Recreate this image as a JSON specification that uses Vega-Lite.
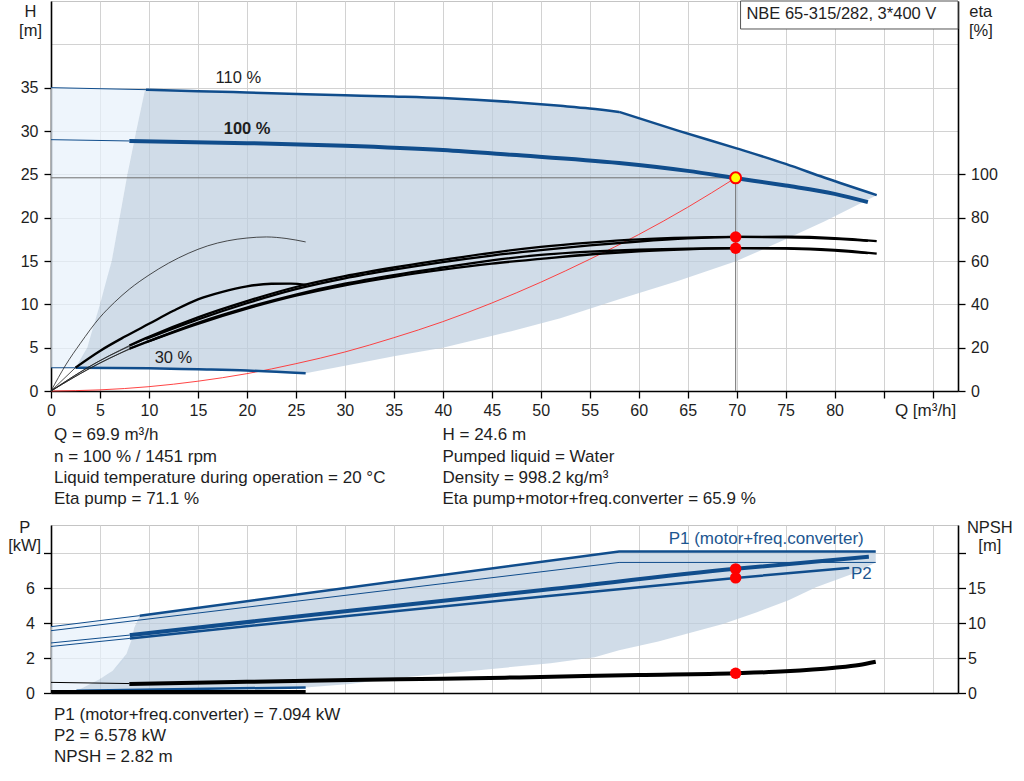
{
  "$schema": "https://vega.github.io/schema/vega-lite/v6.json",
  "padding": {"left": 7, "top": 0, "right": 0, "bottom": 0},
  "config": {
    "font": "Liberation Sans",
    "view": {"stroke": "#c4c4c4", "strokeWidth": 1},
    "axis": {
      "labelFont": "Liberation Sans", "labelFontSize": 16, "labelColor": "#1e1e1e",
      "titleFont": "Liberation Sans", "titleFontSize": 16.5, "titleFontWeight": "normal", "titleColor": "#1e1e1e",
      "domainColor": "#000000", "domainWidth": 1.6,
      "tickColor": "#000000", "tickWidth": 1.3, "tickSize": 7,
      "gridColor": "#d2d2d2", "gridWidth": 1, "gridOpacity": 1,
      "labelOverlap": false, "labelFlush": false
    },
    "text": {"font": "Liberation Sans", "fontSize": 17, "color": "#1e1e1e"}
  },
  "datasets": {
    "hArea": [
      {"region": "light", "Q": 0, "H": 35.0, "H2": 2.68},
      {"region": "light", "Q": 2.5, "H": 34.97, "H2": 2.68},
      {"region": "light", "Q": 3.7, "H": 34.95, "H2": 5},
      {"region": "light", "Q": 5.0, "H": 34.92, "H2": 10},
      {"region": "light", "Q": 6.2, "H": 34.9, "H2": 15},
      {"region": "light", "Q": 7.0, "H": 34.88, "H2": 20},
      {"region": "light", "Q": 7.8, "H": 34.86, "H2": 25},
      {"region": "light", "Q": 8.7, "H": 34.83, "H2": 30},
      {"region": "light", "Q": 9.6, "H": 34.8, "H2": 34.8},
      {"region": "dark", "Q": 2.5, "H": 2.68, "H2": 2.68},
      {"region": "dark", "Q": 3.7, "H": 5, "H2": 2.68},
      {"region": "dark", "Q": 5.0, "H": 10, "H2": 2.67},
      {"region": "dark", "Q": 6.2, "H": 15, "H2": 2.66},
      {"region": "dark", "Q": 7.0, "H": 20, "H2": 2.66},
      {"region": "dark", "Q": 7.8, "H": 25, "H2": 2.65},
      {"region": "dark", "Q": 8.7, "H": 30, "H2": 2.64},
      {"region": "dark", "Q": 9.6, "H": 34.78, "H2": 2.63},
      {"region": "dark", "Q": 15, "H": 34.6, "H2": 2.5},
      {"region": "dark", "Q": 20, "H": 34.45, "H2": 2.36},
      {"region": "dark", "Q": 26, "H": 34.25, "H2": 2.04},
      {"region": "dark", "Q": 30, "H": 34.13, "H2": 2.9},
      {"region": "dark", "Q": 35, "H": 33.98, "H2": 4.0},
      {"region": "dark", "Q": 40, "H": 33.8, "H2": 5.0},
      {"region": "dark", "Q": 47, "H": 33.35, "H2": 6.9},
      {"region": "dark", "Q": 52, "H": 32.9, "H2": 8.4},
      {"region": "dark", "Q": 55, "H": 32.6, "H2": 9.5},
      {"region": "dark", "Q": 58, "H": 32.2, "H2": 10.6},
      {"region": "dark", "Q": 64, "H": 30.05, "H2": 12.7},
      {"region": "dark", "Q": 70, "H": 28.0, "H2": 15.0},
      {"region": "dark", "Q": 75, "H": 26.2, "H2": 17.5},
      {"region": "dark", "Q": 79, "H": 24.6, "H2": 19.6},
      {"region": "dark", "Q": 84.3, "H": 22.6, "H2": 22.6}
    ],
    "hLines": [
      {"curve": "110 thin", "Q": 0, "H": 35.0},
      {"curve": "110 thin", "Q": 9.7, "H": 34.77},
      {"curve": "110", "Q": 9.7, "H": 34.77},
      {"curve": "110", "Q": 15, "H": 34.6},
      {"curve": "110", "Q": 20, "H": 34.45},
      {"curve": "110", "Q": 26, "H": 34.25},
      {"curve": "110", "Q": 30, "H": 34.13},
      {"curve": "110", "Q": 35, "H": 33.98},
      {"curve": "110", "Q": 40, "H": 33.8},
      {"curve": "110", "Q": 47, "H": 33.35},
      {"curve": "110", "Q": 52, "H": 32.9},
      {"curve": "110", "Q": 55, "H": 32.6},
      {"curve": "110", "Q": 58, "H": 32.2},
      {"curve": "110 drop", "Q": 58, "H": 32.2},
      {"curve": "110 drop", "Q": 64, "H": 30.05},
      {"curve": "110 drop", "Q": 70, "H": 28.0},
      {"curve": "110 drop", "Q": 75, "H": 26.2},
      {"curve": "110 drop", "Q": 79, "H": 24.6},
      {"curve": "110 drop", "Q": 84.3, "H": 22.6},
      {"curve": "100 thin", "Q": 0, "H": 29.0},
      {"curve": "100 thin", "Q": 8, "H": 28.85},
      {"curve": "100", "Q": 8, "H": 28.85},
      {"curve": "100", "Q": 20, "H": 28.6},
      {"curve": "100", "Q": 30, "H": 28.3},
      {"curve": "100", "Q": 40, "H": 27.8},
      {"curve": "100", "Q": 47, "H": 27.25},
      {"curve": "100", "Q": 58, "H": 26.3},
      {"curve": "100", "Q": 65, "H": 25.4},
      {"curve": "100", "Q": 70, "H": 24.55},
      {"curve": "100", "Q": 75, "H": 23.7},
      {"curve": "100", "Q": 80, "H": 22.75},
      {"curve": "100", "Q": 83.4, "H": 21.8},
      {"curve": "30 thin", "Q": 0, "H": 2.68},
      {"curve": "30 thin", "Q": 2.5, "H": 2.68},
      {"curve": "30", "Q": 2.5, "H": 2.68},
      {"curve": "30", "Q": 10, "H": 2.62},
      {"curve": "30", "Q": 15, "H": 2.5},
      {"curve": "30", "Q": 20, "H": 2.36},
      {"curve": "30", "Q": 26, "H": 2.04}
    ],
    "system": [
      {"Q": 0, "H": 0}, {"Q": 5, "H": 0.13}, {"Q": 10, "H": 0.5}, {"Q": 15, "H": 1.13},
      {"Q": 20, "H": 2.0}, {"Q": 25, "H": 3.15}, {"Q": 30, "H": 4.5}, {"Q": 35, "H": 6.15},
      {"Q": 40, "H": 8.0}, {"Q": 45, "H": 10.15}, {"Q": 50, "H": 12.55}, {"Q": 55, "H": 15.2},
      {"Q": 60, "H": 18.05}, {"Q": 65, "H": 21.2}, {"Q": 69.9, "H": 24.6}
    ],
    "cross": [
      {"Q": 0, "Q2": 69.9, "H": 24.6, "H2": 24.6},
      {"Q": 69.9, "Q2": 69.9, "H": 0, "H2": 24.6}
    ],
    "duty": [{"Q": 69.9, "H": 24.6}],
    "hLabels": [
      {"Q": 19.13, "H": 35.57, "label": "110 %"},
      {"Q": 20.02, "H": 29.62, "label": "100 %"},
      {"Q": 12.5, "H": 3.27, "label": "30 %"}
    ],
    "box": [{"Q": 70.4, "Q2": 92.6, "H": 41.77, "H2": 45, "label": "NBE 65-315/282, 3*400 V", "Qt": 71.0, "Ht": 42.89}],
    "etaLines": [
      {"curve": "p30", "Q": 0, "eta": 0}, {"curve": "p30", "Q": 1.5, "eta": 12}, {"curve": "p30", "Q": 3, "eta": 22},
      {"curve": "p30", "Q": 5, "eta": 34}, {"curve": "p30", "Q": 6.5, "eta": 41}, {"curve": "p30", "Q": 8, "eta": 47},
      {"curve": "p30", "Q": 10, "eta": 53.5}, {"curve": "p30", "Q": 12, "eta": 59}, {"curve": "p30", "Q": 14, "eta": 63.5},
      {"curve": "p30", "Q": 16, "eta": 67}, {"curve": "p30", "Q": 18, "eta": 69.3}, {"curve": "p30", "Q": 20, "eta": 70.6},
      {"curve": "p30", "Q": 22, "eta": 71.1}, {"curve": "p30", "Q": 24, "eta": 70.4}, {"curve": "p30", "Q": 26, "eta": 68.8},
      {"curve": "t30 thin", "Q": 0, "eta": 0}, {"curve": "t30 thin", "Q": 2.5, "eta": 10.8},
      {"curve": "t30", "Q": 2.5, "eta": 10.8}, {"curve": "t30", "Q": 5, "eta": 18.5}, {"curve": "t30", "Q": 7.5, "eta": 25},
      {"curve": "t30", "Q": 10, "eta": 31}, {"curve": "t30", "Q": 12.5, "eta": 37}, {"curve": "t30", "Q": 15, "eta": 42.3},
      {"curve": "t30", "Q": 17.5, "eta": 45.8}, {"curve": "t30", "Q": 20, "eta": 48.3}, {"curve": "t30", "Q": 22.5, "eta": 49.5},
      {"curve": "t30", "Q": 24.5, "eta": 49.6}, {"curve": "t30", "Q": 26.1, "eta": 49.0},
      {"curve": "p110 thin", "Q": 0, "eta": 0}, {"curve": "p110 thin", "Q": 4.8, "eta": 13.5}, {"curve": "p110 thin", "Q": 9.7, "eta": 24},
      {"curve": "p110", "Q": 9.7, "eta": 24}, {"curve": "p110", "Q": 15, "eta": 33}, {"curve": "p110", "Q": 20, "eta": 40.5},
      {"curve": "p110", "Q": 25, "eta": 47}, {"curve": "p110", "Q": 30, "eta": 52}, {"curve": "p110", "Q": 35, "eta": 56},
      {"curve": "p110", "Q": 40, "eta": 59.5}, {"curve": "p110", "Q": 45, "eta": 62.5}, {"curve": "p110", "Q": 50, "eta": 65},
      {"curve": "p110", "Q": 55, "eta": 67.2}, {"curve": "p110", "Q": 60, "eta": 69}, {"curve": "p110", "Q": 65, "eta": 70.4},
      {"curve": "p110", "Q": 70, "eta": 71.1}, {"curve": "p110", "Q": 75, "eta": 71.2}, {"curve": "p110", "Q": 80, "eta": 70.6},
      {"curve": "p110", "Q": 84.3, "eta": 69.2},
      {"curve": "p100 thin", "Q": 0, "eta": 0}, {"curve": "p100 thin", "Q": 4, "eta": 11.5}, {"curve": "p100 thin", "Q": 8, "eta": 21},
      {"curve": "p100", "Q": 8, "eta": 21}, {"curve": "p100", "Q": 10, "eta": 25}, {"curve": "p100", "Q": 15, "eta": 34},
      {"curve": "p100", "Q": 20, "eta": 41.5}, {"curve": "p100", "Q": 25, "eta": 48}, {"curve": "p100", "Q": 30, "eta": 53},
      {"curve": "p100", "Q": 35, "eta": 57}, {"curve": "p100", "Q": 40, "eta": 60.5}, {"curve": "p100", "Q": 45, "eta": 63.8},
      {"curve": "p100", "Q": 50, "eta": 66.5}, {"curve": "p100", "Q": 55, "eta": 68.5}, {"curve": "p100", "Q": 60, "eta": 70},
      {"curve": "p100", "Q": 65, "eta": 70.8}, {"curve": "p100", "Q": 70, "eta": 71.1}, {"curve": "p100", "Q": 75, "eta": 70.9},
      {"curve": "p100", "Q": 80, "eta": 70.2}, {"curve": "p100", "Q": 83.4, "eta": 69.3},
      {"curve": "t110 thin", "Q": 0, "eta": 0}, {"curve": "t110 thin", "Q": 4.8, "eta": 12.5}, {"curve": "t110 thin", "Q": 9.7, "eta": 22.5},
      {"curve": "t110", "Q": 9.7, "eta": 22.5}, {"curve": "t110", "Q": 15, "eta": 31}, {"curve": "t110", "Q": 20, "eta": 38},
      {"curve": "t110", "Q": 25, "eta": 44}, {"curve": "t110", "Q": 30, "eta": 48.8}, {"curve": "t110", "Q": 35, "eta": 52.7},
      {"curve": "t110", "Q": 40, "eta": 56}, {"curve": "t110", "Q": 45, "eta": 58.8}, {"curve": "t110", "Q": 50, "eta": 61},
      {"curve": "t110", "Q": 55, "eta": 63}, {"curve": "t110", "Q": 60, "eta": 64.5}, {"curve": "t110", "Q": 65, "eta": 65.4},
      {"curve": "t110", "Q": 70, "eta": 65.9}, {"curve": "t110", "Q": 75, "eta": 65.9}, {"curve": "t110", "Q": 80, "eta": 65.1},
      {"curve": "t110", "Q": 84.3, "eta": 63.4},
      {"curve": "t100 thin", "Q": 0, "eta": 0}, {"curve": "t100 thin", "Q": 4, "eta": 10.5}, {"curve": "t100 thin", "Q": 8, "eta": 19.5},
      {"curve": "t100", "Q": 8, "eta": 19.5}, {"curve": "t100", "Q": 10, "eta": 23}, {"curve": "t100", "Q": 15, "eta": 31.5},
      {"curve": "t100", "Q": 20, "eta": 38.5}, {"curve": "t100", "Q": 25, "eta": 44.5}, {"curve": "t100", "Q": 30, "eta": 49.5},
      {"curve": "t100", "Q": 35, "eta": 53.5}, {"curve": "t100", "Q": 40, "eta": 57}, {"curve": "t100", "Q": 45, "eta": 60.3},
      {"curve": "t100", "Q": 50, "eta": 62.8}, {"curve": "t100", "Q": 55, "eta": 64.3}, {"curve": "t100", "Q": 60, "eta": 65.2},
      {"curve": "t100", "Q": 65, "eta": 65.7}, {"curve": "t100", "Q": 70, "eta": 65.9}, {"curve": "t100", "Q": 75, "eta": 65.7},
      {"curve": "t100", "Q": 80, "eta": 64.8}, {"curve": "t100", "Q": 83.4, "eta": 63.6}
    ],
    "etaPoints": [{"Q": 69.9, "eta": 71.1}, {"Q": 69.9, "eta": 65.9}],
    "pArea": [
      {"region": "light", "Q": 0, "P": 3.79, "P2": 0.13},
      {"region": "light", "Q": 2.6, "P": 3.97, "P2": 0.13},
      {"region": "light", "Q": 3.3, "P": 4.02, "P2": 0.32},
      {"region": "light", "Q": 5.0, "P": 4.14, "P2": 0.8},
      {"region": "light", "Q": 6.3, "P": 4.23, "P2": 1.27},
      {"region": "light", "Q": 7.7, "P": 4.33, "P2": 2.23},
      {"region": "light", "Q": 8.2, "P": 4.36, "P2": 3.0},
      {"region": "light", "Q": 8.5, "P": 4.38, "P2": 3.75},
      {"region": "light", "Q": 9.05, "P": 4.42, "P2": 4.42},
      {"region": "dark", "Q": 2.6, "P": 0.13, "P2": 0.13},
      {"region": "dark", "Q": 3.3, "P": 0.32, "P2": 0.14},
      {"region": "dark", "Q": 5.0, "P": 0.8, "P2": 0.15},
      {"region": "dark", "Q": 6.3, "P": 1.27, "P2": 0.16},
      {"region": "dark", "Q": 7.7, "P": 2.23, "P2": 0.17},
      {"region": "dark", "Q": 8.2, "P": 3.0, "P2": 0.17},
      {"region": "dark", "Q": 8.5, "P": 3.75, "P2": 0.17},
      {"region": "dark", "Q": 9.05, "P": 4.42, "P2": 0.18},
      {"region": "dark", "Q": 20, "P": 5.24, "P2": 0.27},
      {"region": "dark", "Q": 26, "P": 5.69, "P2": 0.32},
      {"region": "dark", "Q": 30.5, "P": 6.03, "P2": 0.51},
      {"region": "dark", "Q": 35, "P": 6.37, "P2": 0.85},
      {"region": "dark", "Q": 45.8, "P": 7.18, "P2": 1.42},
      {"region": "dark", "Q": 51, "P": 7.57, "P2": 1.7},
      {"region": "dark", "Q": 55.5, "P": 7.91, "P2": 2.05},
      {"region": "dark", "Q": 58, "P": 8.09, "P2": 2.45},
      {"region": "dark", "Q": 62, "P": 8.09, "P2": 2.95},
      {"region": "dark", "Q": 65, "P": 8.09, "P2": 3.4},
      {"region": "dark", "Q": 68.6, "P": 8.09, "P2": 3.94},
      {"region": "dark", "Q": 72, "P": 8.09, "P2": 4.6},
      {"region": "dark", "Q": 75.3, "P": 8.09, "P2": 5.3},
      {"region": "dark", "Q": 78.1, "P": 8.09, "P2": 6.05},
      {"region": "dark", "Q": 82, "P": 8.09, "P2": 6.85},
      {"region": "dark", "Q": 84.2, "P": 8.09, "P2": 7.46}
    ],
    "pLines": [
      {"curve": "P1 110 thin", "Q": 0, "P": 3.79}, {"curve": "P1 110 thin", "Q": 9.05, "P": 4.42},
      {"curve": "P1 110", "Q": 9.05, "P": 4.42}, {"curve": "P1 110", "Q": 58, "P": 8.09}, {"curve": "P1 110", "Q": 84.2, "P": 8.09},
      {"curve": "P2 110", "Q": 0, "P": 3.56}, {"curve": "P2 110", "Q": 58, "P": 7.46}, {"curve": "P2 110", "Q": 84.2, "P": 7.46},
      {"curve": "P1 100 thin", "Q": 0, "P": 2.86}, {"curve": "P1 100 thin", "Q": 8.05, "P": 3.31},
      {"curve": "P1 100", "Q": 8.05, "P": 3.31}, {"curve": "P1 100", "Q": 30.5, "P": 4.7}, {"curve": "P1 100", "Q": 50, "P": 5.87},
      {"curve": "P1 100", "Q": 69.9, "P": 7.094}, {"curve": "P1 100", "Q": 83.5, "P": 7.79},
      {"curve": "P2 100 thin", "Q": 0, "P": 2.66}, {"curve": "P2 100 thin", "Q": 8.05, "P": 3.12},
      {"curve": "P2 100", "Q": 8.05, "P": 3.12}, {"curve": "P2 100", "Q": 30.5, "P": 4.42}, {"curve": "P2 100", "Q": 50, "P": 5.5},
      {"curve": "P2 100", "Q": 69.9, "P": 6.578}, {"curve": "P2 100", "Q": 81.5, "P": 7.15},
      {"curve": "P 30 thin", "Q": 0, "P": 0.13}, {"curve": "P 30 thin", "Q": 2.6, "P": 0.13},
      {"curve": "P 30", "Q": 2.6, "P": 0.13}, {"curve": "P 30", "Q": 26, "P": 0.32}
    ],
    "pPoints": [{"Q": 69.9, "P": 7.094}, {"Q": 69.9, "P": 6.578}],
    "pLabels": [
      {"Q": 63.06, "P": 8.53, "label": "P1 (motor+freq.converter)"},
      {"Q": 81.67, "P": 6.51, "label": "P2"}
    ],
    "npshLines": [
      {"curve": "thin", "Q": 0, "NPSH": 1.52}, {"curve": "thin", "Q": 8, "NPSH": 1.35},
      {"curve": "main", "Q": 8, "NPSH": 1.3}, {"curve": "main", "Q": 20, "NPSH": 1.6}, {"curve": "main", "Q": 30.5, "NPSH": 1.86},
      {"curve": "main", "Q": 40, "NPSH": 2.05}, {"curve": "main", "Q": 47.8, "NPSH": 2.23}, {"curve": "main", "Q": 60, "NPSH": 2.57},
      {"curve": "main", "Q": 69.9, "NPSH": 2.82}, {"curve": "main", "Q": 75, "NPSH": 3.09}, {"curve": "main", "Q": 80, "NPSH": 3.6},
      {"curve": "main", "Q": 82.5, "NPSH": 4.0}, {"curve": "main", "Q": 84.2, "NPSH": 4.47},
      {"curve": "n30", "Q": 0, "NPSH": 0.2}, {"curve": "n30", "Q": 26, "NPSH": 0.2}
    ],
    "npshPoints": [{"Q": 69.9, "NPSH": 2.82}],
    "info1": [
      {"column": 0, "line": 1, "text": "Q = 69.9 m³/h"},
      {"column": 0, "line": 2, "text": "n = 100 % / 1451 rpm"},
      {"column": 0, "line": 3, "text": "Liquid temperature during operation = 20 °C"},
      {"column": 0, "line": 4, "text": "Eta pump = 71.1 %"},
      {"column": 1, "line": 1, "text": "H = 24.6 m"},
      {"column": 1, "line": 2, "text": "Pumped liquid = Water"},
      {"column": 1, "line": 3, "text": "Density = 998.2 kg/m³"},
      {"column": 1, "line": 4, "text": "Eta pump+motor+freq.converter = 65.9 %"}
    ],
    "info2": [
      {"column": 0, "line": 1, "text": "P1 (motor+freq.converter) = 7.094 kW"},
      {"column": 0, "line": 2, "text": "P2 = 6.578 kW"},
      {"column": 0, "line": 3, "text": "NPSH = 2.82 m"}
    ]
  },
  "vconcat": [
    {
      "width": 907,
      "height": 390,
      "layer": [
        {
          "encoding": {
            "x": {"field": "Q", "type": "quantitative", "scale": {"domain": [0, 92.6], "nice": false, "zero": false},
              "axis": {"values": [0, 5, 10, 15, 20, 25, 30, 35, 40, 45, 50, 55, 60, 65, 70, 75, 80, 85, 90], "grid": true,
                "labelExpr": "datum.value > 80 ? '' : datum.label", "labelPadding": 4.4,
                "title": "Q [m³/h]", "titleFontSize": 17, "titleAlign": "left", "titleBaseline": "top", "titleX": 843.4, "titleY": 11}},
            "y": {"field": "H", "type": "quantitative", "scale": {"domain": [0, 45], "nice": false, "zero": false},
              "axis": {"values": [0, 5, 10, 15, 20, 25, 30, 35, 40], "grid": true,
                "labelExpr": "datum.value > 35 ? '' : datum.label",
                "tickOpacity": {"condition": {"test": "datum.value > 35", "value": 0}, "value": 1},
                "labelPadding": 6, "title": ["H", "[m]"], "titleAngle": 0, "titleAlign": "center", "titleBaseline": "top",
                "titleX": -21, "titleY": 2, "titleLineHeight": 19}}
          },
          "layer": [
            {"data": {"name": "hArea"}, "transform": [{"filter": "datum.region == 'light'"}],
              "mark": {"type": "area", "color": "#e7f1fb", "fillOpacity": 0.7, "interpolate": "monotone"}, "encoding": {"y2": {"field": "H2"}}},
            {"data": {"name": "hArea"}, "transform": [{"filter": "datum.region == 'dark'"}],
              "mark": {"type": "area", "color": "#bccdde", "fillOpacity": 0.7}, "encoding": {"y2": {"field": "H2"}}},
            {"data": {"name": "box"}, "mark": {"type": "rect", "fill": "#ffffff", "stroke": "#555555", "strokeWidth": 1},
              "encoding": {"x2": {"field": "Q2"}, "y2": {"field": "H2"}}},
            {"data": {"name": "box"}, "mark": {"type": "text", "align": "left", "baseline": "alphabetic", "fontSize": 16.5},
              "encoding": {"x": {"field": "Qt", "type": "quantitative"}, "y": {"field": "Ht", "type": "quantitative"}, "text": {"field": "label"}}},
            {"data": {"name": "cross"}, "mark": {"type": "rule", "color": "#707070", "strokeWidth": 1},
              "encoding": {"x2": {"field": "Q2"}, "y2": {"field": "H2"}}},
            {"data": {"name": "system"}, "mark": {"type": "line", "color": "#ff3030", "strokeWidth": 0.9, "interpolate": "monotone"}, "encoding": {}},
            {"data": {"name": "hLines"}, "transform": [{"filter": {"field": "curve", "oneOf": ["110 thin", "100 thin", "30 thin"]}}],
              "mark": {"type": "line", "color": "#104d8c", "strokeWidth": 1}, "encoding": {"detail": {"field": "curve"}}},
            {"data": {"name": "hLines"}, "transform": [{"filter": {"field": "curve", "oneOf": ["110", "110 drop", "30"]}}],
              "mark": {"type": "line", "color": "#104d8c", "strokeWidth": 2.5, "interpolate": "monotone"}, "encoding": {"detail": {"field": "curve"}}},
            {"data": {"name": "hLines"}, "transform": [{"filter": {"field": "curve", "oneOf": ["100"]}}],
              "mark": {"type": "line", "color": "#104d8c", "strokeWidth": 4, "interpolate": "monotone"}, "encoding": {"detail": {"field": "curve"}}},
            {"data": {"name": "hLabels"}, "transform": [{"filter": "datum.label != '100 %'"}],
              "mark": {"type": "text", "align": "center", "baseline": "alphabetic", "fontSize": 16.5}, "encoding": {"text": {"field": "label"}}},
            {"data": {"name": "hLabels"}, "transform": [{"filter": "datum.label == '100 %'"}],
              "mark": {"type": "text", "align": "center", "baseline": "alphabetic", "fontSize": 16.5, "fontWeight": "bold"}, "encoding": {"text": {"field": "label"}}},
            {"data": {"name": "duty"}, "mark": {"type": "point", "filled": true, "fill": "#ffff00", "stroke": "#ff0000", "strokeWidth": 2, "size": 120, "opacity": 1}}
          ]
        },
        {
          "encoding": {
            "x": {"field": "Q", "type": "quantitative", "scale": {"domain": [0, 92.6], "nice": false, "zero": false},
              "axis": {"values": [0, 5, 10, 15, 20, 25, 30, 35, 40, 45, 50, 55, 60, 65, 70, 75, 80, 85, 90], "grid": true,
                "labelExpr": "datum.value > 80 ? '' : datum.label", "labelPadding": 4.4,
                "title": "Q [m³/h]", "titleFontSize": 17, "titleAlign": "left", "titleBaseline": "top", "titleX": 843.4, "titleY": 11}},
            "y": {"field": "eta", "type": "quantitative", "scale": {"domain": [0, 180], "nice": false, "zero": false},
              "axis": {"orient": "right", "values": [0, 20, 40, 60, 80, 100], "grid": false, "labelPadding": 5.6,
                "title": ["eta", "[%]"], "titleAngle": 0, "titleAlign": "center", "titleBaseline": "top",
                "titleX": 22.3, "titleY": 2, "titleLineHeight": 19}}
          },
          "layer": [
            {"data": {"name": "etaLines"}, "transform": [{"filter": {"field": "curve", "oneOf": ["p30", "t30 thin", "p110 thin", "p100 thin", "t110 thin", "t100 thin"]}}],
              "mark": {"type": "line", "color": "#222222", "strokeWidth": 0.8, "interpolate": "monotone"}, "encoding": {"detail": {"field": "curve"}}},
            {"data": {"name": "etaLines"}, "transform": [{"filter": {"field": "curve", "oneOf": ["t30", "p110", "p100", "t110", "t100"]}}],
              "mark": {"type": "line", "color": "#000000", "strokeWidth": 2.3, "interpolate": "monotone"}, "encoding": {"detail": {"field": "curve"}}},
            {"data": {"name": "etaPoints"}, "mark": {"type": "circle", "color": "#ff0000", "size": 130, "opacity": 1}}
          ]
        }
      ],
      "resolve": {"scale": {"y": "independent"}, "axis": {"y": "independent"}}
    },
    {
      "width": 777,
      "height": 133.5,
      "view": {"stroke": null},
      "data": {"name": "info1"},
      "mark": {"type": "text", "align": "left", "baseline": "alphabetic", "fontSize": 17, "dx": 3},
      "encoding": {
        "x": {"field": "column", "type": "quantitative", "scale": {"domain": [0, 2], "nice": false, "zero": false}, "axis": null},
        "y": {"field": "line", "type": "quantitative", "scale": {"domain": [-1.307, 4.94], "reverse": true, "nice": false, "zero": false}, "axis": null},
        "text": {"field": "text"}
      }
    },
    {
      "width": 907,
      "height": 168,
      "layer": [
        {
          "encoding": {
            "x": {"field": "Q", "type": "quantitative", "scale": {"domain": [0, 92.6], "nice": false, "zero": false},
              "axis": {"values": [0, 5, 10, 15, 20, 25, 30, 35, 40, 45, 50, 55, 60, 65, 70, 75, 80, 85, 90], "grid": true,
                "labels": false, "ticks": false, "title": null}},
            "y": {"field": "P", "type": "quantitative", "scale": {"domain": [0, 9.6], "nice": false, "zero": false},
              "axis": {"values": [0, 2, 4, 6, 8], "grid": true, "tickSize": 7.5,
                "labelExpr": "datum.value > 6 ? '' : datum.label", "labelPadding": 9,
                "title": ["P", "[kW]"], "titleAngle": 0, "titleAlign": "center", "titleBaseline": "top",
                "titleX": -26.8, "titleY": -5.8, "titleLineHeight": 18.5}}
          },
          "layer": [
            {"data": {"name": "pArea"}, "transform": [{"filter": "datum.region == 'light'"}],
              "mark": {"type": "area", "color": "#e7f1fb", "fillOpacity": 0.7, "interpolate": "monotone"}, "encoding": {"y2": {"field": "P2"}}},
            {"data": {"name": "pArea"}, "transform": [{"filter": "datum.region == 'dark'"}],
              "mark": {"type": "area", "color": "#bccdde", "fillOpacity": 0.7}, "encoding": {"y2": {"field": "P2"}}},
            {"data": {"name": "pLines"}, "transform": [{"filter": {"field": "curve", "oneOf": ["P1 110 thin", "P2 110", "P1 100 thin", "P2 100 thin", "P 30 thin"]}}],
              "mark": {"type": "line", "color": "#104d8c", "strokeWidth": 1}, "encoding": {"detail": {"field": "curve"}}},
            {"data": {"name": "pLines"}, "transform": [{"filter": {"field": "curve", "oneOf": ["P1 110", "P 30"]}}],
              "mark": {"type": "line", "color": "#104d8c", "strokeWidth": 2.5}, "encoding": {"detail": {"field": "curve"}}},
            {"data": {"name": "pLines"}, "transform": [{"filter": {"field": "curve", "oneOf": ["P2 100"]}}],
              "mark": {"type": "line", "color": "#104d8c", "strokeWidth": 2.5, "interpolate": "monotone"}, "encoding": {"detail": {"field": "curve"}}},
            {"data": {"name": "pLines"}, "transform": [{"filter": {"field": "curve", "oneOf": ["P1 100"]}}],
              "mark": {"type": "line", "color": "#104d8c", "strokeWidth": 4, "interpolate": "monotone"}, "encoding": {"detail": {"field": "curve"}}},
            {"data": {"name": "pLabels"}, "mark": {"type": "text", "align": "left", "baseline": "alphabetic", "fontSize": 17, "color": "#1d5690"},
              "encoding": {"text": {"field": "label"}}},
            {"data": {"name": "pPoints"}, "mark": {"type": "circle", "color": "#ff0000", "size": 130, "opacity": 1}}
          ]
        },
        {
          "encoding": {
            "x": {"field": "Q", "type": "quantitative", "scale": {"domain": [0, 92.6], "nice": false, "zero": false},
              "axis": {"values": [0, 5, 10, 15, 20, 25, 30, 35, 40, 45, 50, 55, 60, 65, 70, 75, 80, 85, 90], "grid": true,
                "labels": false, "ticks": false, "title": null}},
            "y": {"field": "NPSH", "type": "quantitative", "scale": {"domain": [0, 24], "nice": false, "zero": false},
              "axis": {"orient": "right", "values": [0, 5, 10, 15, 20], "grid": false, "tickSize": 7.5,
                "labelExpr": "datum.value > 15 ? '' : datum.label", "labelPadding": 2,
                "title": ["NPSH", "[m]"], "titleAngle": 0, "titleAlign": "center", "titleBaseline": "top",
                "titleX": 31.3, "titleY": -5.8, "titleLineHeight": 18.5}}
          },
          "layer": [
            {"data": {"name": "npshLines"}, "transform": [{"filter": "datum.curve == 'thin'"}],
              "mark": {"type": "line", "color": "#000000", "strokeWidth": 1}, "encoding": {"detail": {"field": "curve"}}},
            {"data": {"name": "npshLines"}, "transform": [{"filter": "datum.curve == 'n30'"}],
              "mark": {"type": "line", "color": "#000000", "strokeWidth": 3}, "encoding": {"detail": {"field": "curve"}}},
            {"data": {"name": "npshLines"}, "transform": [{"filter": "datum.curve == 'main'"}],
              "mark": {"type": "line", "color": "#000000", "strokeWidth": 4, "interpolate": "monotone"}, "encoding": {"detail": {"field": "curve"}}},
            {"data": {"name": "npshPoints"}, "mark": {"type": "circle", "color": "#ff0000", "size": 130, "opacity": 1}}
          ]
        }
      ],
      "resolve": {"scale": {"y": "independent"}, "axis": {"y": "independent"}}
    },
    {
      "width": 777,
      "height": 89.5,
      "view": {"stroke": null},
      "data": {"name": "info2"},
      "mark": {"type": "text", "align": "left", "baseline": "alphabetic", "fontSize": 17, "dx": 3},
      "encoding": {
        "x": {"field": "column", "type": "quantitative", "scale": {"domain": [0, 2], "nice": false, "zero": false}, "axis": null},
        "y": {"field": "line", "type": "quantitative", "scale": {"domain": [-0.262, 4.0], "reverse": true, "nice": false, "zero": false}, "axis": null},
        "text": {"field": "text"}
      }
    }
  ],
  "spacing": 0,
  "bounds": "flush"
}
